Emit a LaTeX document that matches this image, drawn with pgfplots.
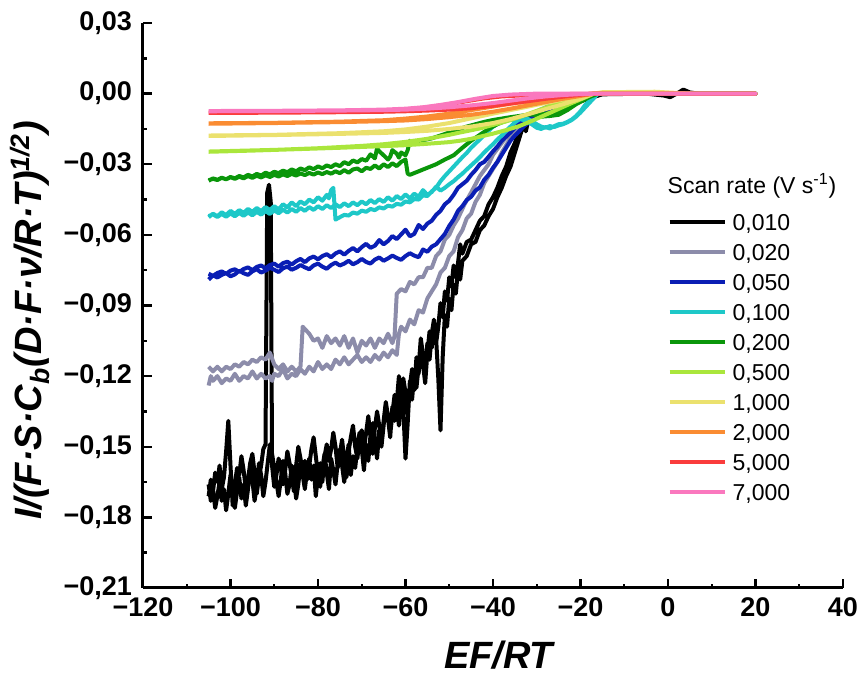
\documentclass[border=0pt]{standalone}
\usepackage{fontspec}
\setmainfont{Liberation Sans}
\usepackage{pgfplots}
\pgfplotsset{compat=1.18}
\definecolor{cBlack}{HTML}{000000}
\definecolor{cGray}{HTML}{8C8CAA}
\definecolor{cBlue}{HTML}{0A1EB4}
\definecolor{cCyan}{HTML}{1EC8C8}
\definecolor{cGreen}{HTML}{0A960A}
\definecolor{cLime}{HTML}{AAE63C}
\definecolor{cYellow}{HTML}{EBE16E}
\definecolor{cOrange}{HTML}{FA8C32}
\definecolor{cRed}{HTML}{FA3C3C}
\definecolor{cPink}{HTML}{FA78BE}
\begin{document}
\begin{tikzpicture}
\useasboundingbox (-71.5pt,-43.5pt) rectangle (357.5pt,294pt);
\begin{axis}[
  scale only axis, width=350pt, height=282.5pt,
  xmin=-120, xmax=40, ymin=-0.21, ymax=0.03,
  axis lines=left, axis line style={-, line width=1.5pt},
  tick align=inside, major tick length=4.5pt, minor tick length=2.2pt,
  every tick/.style={line width=1.2pt, black},
  xtick={-120,-100,-80,-60,-40,-20,0,20,40},
  xticklabels={−120,−100,−80,−60,−40,−20,0,20,40},
  ytick={-0.21,-0.18,-0.15,-0.12,-0.09,-0.06,-0.03,0,0.03},
  yticklabels={{−0,21},{−0,18},{−0,15},{−0,12},{−0,09},{−0,06},{−0,03},{0,00},{0,03}},
  minor x tick num=1, minor y tick num=1,
  tick label style={font=\bfseries\fontsize{13.5}{15}\selectfont},
  xticklabel style={yshift=-1.5pt},
  yticklabel style={xshift=-2pt},
  xlabel={\textbf{\textit{EF/RT}}},
  ylabel={\textbf{\textit{I/(F·S·C\textsubscript{b}(D·F·ν/R·T)\textsuperscript{1/2})}}},
  label style={font=\fontsize{19}{22}\selectfont},
  xlabel style={at={(ticklabel cs:0.51)}, yshift=-5pt},
  ylabel style={at={(ticklabel cs:0.474)}},
  every axis plot/.append style={line width=2pt, line join=round},
  legend image code/.code={\draw[#1,line width=2pt] (0pt,0pt) -- (27.5pt,0pt);},
  legend style={at={(rel axis cs:0.749,0.675)}, anchor=north west, draw=none, fill=none,
    inner sep=0pt, row sep=0pt, font=\fontsize{11.5}{13.8}\selectfont,
    nodes={inner ysep=3.35pt, inner xsep=0pt, text height=8.3pt, text depth=0pt},
    /tikz/every odd column/.append style={column sep=3pt}},
  legend cell align=left,
]
% 0,010
\addplot[color=cBlack] coordinates {
(-105.0,-0.166) (-104.5,-0.173) (-104.0,-0.169) (-103.5,-0.161) (-103.0,-0.165) (-102.5,-0.158)
(-102.0,-0.168) (-101.5,-0.163) (-101.0,-0.152) (-100.5,-0.139) (-100.0,-0.158) (-99.5,-0.175)
(-99.0,-0.166) (-98.5,-0.159) (-98.0,-0.162) (-97.5,-0.154) (-97.0,-0.160) (-96.5,-0.168)
(-96.0,-0.164) (-95.5,-0.157) (-95.0,-0.153) (-94.5,-0.161) (-94.0,-0.170) (-93.5,-0.163)
(-93.0,-0.158) (-92.5,-0.151) (-92.0,-0.149) (-91.6,-0.042) (-91.2,-0.0387) (-90.8,-0.046)
(-90.5,-0.158) (-90.0,-0.167) (-89.5,-0.162) (-89.0,-0.155) (-88.5,-0.159) (-88.0,-0.166)
(-87.5,-0.160) (-87.0,-0.152) (-86.5,-0.157) (-86.0,-0.163) (-85.5,-0.169) (-85.0,-0.158)
(-84.5,-0.150) (-84.0,-0.155) (-83.5,-0.161) (-83.0,-0.156) (-82.5,-0.164) (-82.0,-0.158)
(-81.5,-0.151) (-81.0,-0.146) (-80.5,-0.154) (-80.0,-0.162) (-79.5,-0.157) (-79.0,-0.165)
(-78.5,-0.154) (-78.0,-0.149) (-77.5,-0.156) (-77.0,-0.151) (-76.5,-0.144) (-76.0,-0.150)
(-75.5,-0.159) (-75.0,-0.153) (-74.5,-0.147) (-74.0,-0.155) (-73.5,-0.163) (-73.0,-0.152)
(-72.5,-0.146) (-72.0,-0.141) (-71.5,-0.150) (-71.0,-0.155) (-70.5,-0.147) (-70.0,-0.143)
(-69.5,-0.151) (-69.0,-0.144) (-68.5,-0.137) (-68.0,-0.146) (-67.5,-0.153) (-67.0,-0.142)
(-66.5,-0.135) (-66.0,-0.141) (-65.5,-0.148) (-65.0,-0.139) (-64.5,-0.131) (-64.0,-0.137)
(-63.5,-0.145) (-63.0,-0.136) (-62.5,-0.128) (-62.0,-0.133) (-61.5,-0.141) (-61.0,-0.129)
(-60.5,-0.121) (-60.0,-0.127) (-59.5,-0.136) (-59.0,-0.124) (-58.5,-0.117) (-58.0,-0.126)
(-57.5,-0.112) (-57.0,-0.119) (-56.5,-0.108) (-56.0,-0.115) (-55.5,-0.123) (-55.0,-0.110)
(-54.5,-0.101) (-54.0,-0.108) (-53.5,-0.097) (-53.0,-0.104) (-52.5,-0.121) (-52.0,-0.143)
(-51.5,-0.112) (-51.0,-0.094) (-50.5,-0.099) (-50.0,-0.087) (-49.5,-0.092) (-49.0,-0.081)
(-48.5,-0.085) (-48.0,-0.075) (-47.5,-0.079) (-47.0,-0.071) (-46.0,-0.069) (-45.0,-0.064)
(-44.0,-0.063) (-43.0,-0.058) (-42.0,-0.056) (-41.0,-0.052) (-40.0,-0.049) (-39.0,-0.044)
(-38.0,-0.040) (-37.0,-0.035) (-36.0,-0.031) (-35.0,-0.025) (-34.0,-0.019) (-33.0,-0.013)
(-32.5,-0.016) (-32.0,-0.012) (-30.0,-0.010) (-27.0,-0.008) (-24.0,-0.006) (-21.0,-0.004)
(-18.0,-0.002) (-15.0,-0.0003) (-10.0,0.0) (-5.0,0.0) (-1.0,-0.0008) (0.5,-0.0015) (2.0,0.0)
(3.5,0.0017) (5.0,0.0005) (7.0,0.0) (20.0,0.0)
(7.0,0.0) (-5.0,0.0) (-15.0,-0.0003) (-18.0,-0.0015) (-21.0,-0.003) (-24.0,-0.005)
(-27.0,-0.007) (-30.0,-0.009) (-32.0,-0.011)
(-33.0,-0.012) (-34.0,-0.016) (-35.0,-0.021) (-36.0,-0.025) (-37.0,-0.031) (-38.0,-0.035)
(-39.0,-0.040) (-40.0,-0.044) (-41.0,-0.047) (-42.0,-0.052) (-43.0,-0.054) (-44.0,-0.058)
(-45.0,-0.062) (-46.0,-0.063) (-47.0,-0.068) (-47.5,-0.064) (-48.0,-0.072) (-48.5,-0.078)
(-49.0,-0.073) (-49.5,-0.082) (-50.0,-0.078) (-50.5,-0.088) (-51.0,-0.084) (-51.5,-0.095)
(-52.0,-0.089) (-52.5,-0.099) (-53.0,-0.106) (-53.5,-0.096) (-54.0,-0.102) (-54.5,-0.113)
(-55.0,-0.106) (-55.5,-0.118) (-56.0,-0.111) (-56.5,-0.104) (-57.0,-0.116) (-57.5,-0.125)
(-58.0,-0.119) (-58.5,-0.130) (-59.0,-0.122) (-59.5,-0.140) (-60.0,-0.155) (-60.5,-0.134)
(-61.0,-0.127) (-61.5,-0.120) (-62.0,-0.131) (-62.5,-0.139) (-63.0,-0.133) (-63.5,-0.146)
(-64.0,-0.138) (-64.5,-0.132) (-65.0,-0.141) (-65.5,-0.150) (-66.0,-0.143) (-66.5,-0.155)
(-67.0,-0.147) (-67.5,-0.140) (-68.0,-0.145) (-68.5,-0.156) (-69.0,-0.149) (-69.5,-0.160)
(-70.0,-0.151) (-70.5,-0.144) (-71.0,-0.150) (-71.5,-0.159) (-72.0,-0.154) (-72.5,-0.162)
(-73.0,-0.149) (-73.5,-0.156) (-74.0,-0.165) (-74.5,-0.158) (-75.0,-0.151) (-75.5,-0.157)
(-76.0,-0.166) (-76.5,-0.160) (-77.0,-0.155) (-77.5,-0.168) (-78.0,-0.161) (-78.5,-0.153)
(-79.0,-0.159) (-79.5,-0.167) (-80.0,-0.162) (-80.5,-0.171) (-81.0,-0.158) (-81.5,-0.164)
(-82.0,-0.155) (-82.5,-0.160) (-83.0,-0.168) (-83.5,-0.162) (-84.0,-0.157) (-84.5,-0.166)
(-85.0,-0.172) (-85.5,-0.163) (-86.0,-0.158) (-86.5,-0.166) (-87.0,-0.170) (-87.5,-0.161)
(-88.0,-0.156) (-88.5,-0.164) (-89.0,-0.171) (-89.5,-0.165) (-90.0,-0.159) (-90.5,-0.153)
(-91.0,-0.149) (-91.5,-0.157) (-92.0,-0.165) (-92.5,-0.171) (-93.0,-0.162) (-93.5,-0.157)
(-94.0,-0.167) (-94.5,-0.173) (-95.0,-0.164) (-95.5,-0.159) (-96.0,-0.168) (-96.5,-0.175)
(-97.0,-0.166) (-97.5,-0.172) (-98.0,-0.163) (-98.5,-0.169) (-99.0,-0.176) (-99.5,-0.168)
(-100.0,-0.162) (-100.5,-0.170) (-101.0,-0.177) (-101.5,-0.168) (-102.0,-0.173) (-102.5,-0.165)
(-103.0,-0.171) (-103.5,-0.176) (-104.0,-0.168) (-104.5,-0.164) (-105.0,-0.171)
};
\addlegendentry{0,010}
% 0,020
\addplot[color=cGray] coordinates {
(-105.0,-0.124) (-104.5,-0.120) (-104.0,-0.122) (-103.0,-0.120) (-102.0,-0.123) (-101.0,-0.121)
(-100.0,-0.122) (-99.0,-0.119) (-98.0,-0.122) (-97.0,-0.120) (-96.0,-0.121) (-95.0,-0.118)
(-94.0,-0.121) (-93.0,-0.119) (-92.0,-0.121) (-91.0,-0.120) (-90.5,-0.122) (-90.0,-0.119)
(-89.0,-0.120) (-88.0,-0.117) (-87.0,-0.121) (-86.0,-0.119) (-85.0,-0.120) (-84.0,-0.117)
(-83.0,-0.119) (-82.0,-0.116) (-81.0,-0.118) (-80.0,-0.114) (-79.0,-0.117) (-78.0,-0.115)
(-77.0,-0.117) (-76.0,-0.113) (-75.0,-0.115) (-74.0,-0.112) (-73.0,-0.115) (-72.0,-0.113)
(-71.0,-0.111) (-70.0,-0.114) (-69.0,-0.112) (-68.0,-0.114) (-67.0,-0.111) (-66.0,-0.113)
(-65.0,-0.110) (-64.0,-0.112) (-63.0,-0.109) (-62.0,-0.111) (-61.5,-0.102) (-61.0,-0.099)
(-60.0,-0.101) (-59.0,-0.096) (-58.0,-0.098) (-57.0,-0.092) (-56.0,-0.093) (-55.0,-0.087)
(-54.0,-0.084) (-53.0,-0.081) (-52.0,-0.076) (-51.0,-0.074) (-50.0,-0.069) (-49.0,-0.067)
(-48.0,-0.061) (-47.0,-0.058) (-46.0,-0.053) (-45.0,-0.051) (-44.0,-0.046) (-43.0,-0.043)
(-42.0,-0.038) (-41.0,-0.035) (-40.0,-0.032) (-39.0,-0.029) (-38.0,-0.025) (-37.0,-0.022)
(-36.0,-0.019) (-35.0,-0.016) (-34.0,-0.014) (-32.0,-0.011) (-30.0,-0.009) (-27.0,-0.006)
(-24.0,-0.004) (-20.0,-0.002) (-16.0,0.0) (20.0,0.0)
(-16.0,0.0) (-20.0,-0.0015) (-24.0,-0.003) (-27.0,-0.005) (-30.0,-0.0075) (-32.0,-0.0095)
(-34.0,-0.012) (-36.0,-0.016) (-38.0,-0.021) (-40.0,-0.026) (-41.0,-0.030) (-43.0,-0.035)
(-45.0,-0.042) (-46.5,-0.047) (-48.0,-0.053) (-49.0,-0.056) (-50.0,-0.060) (-51.0,-0.062)
(-52.0,-0.067) (-53.0,-0.069) (-54.0,-0.074) (-55.0,-0.074) (-56.0,-0.078) (-57.0,-0.078)
(-58.0,-0.081) (-59.0,-0.080) (-60.0,-0.084) (-61.0,-0.083) (-62.0,-0.085) (-62.5,-0.103)
(-63.0,-0.106) (-64.0,-0.102) (-65.0,-0.106) (-66.0,-0.104) (-67.0,-0.108) (-68.0,-0.104)
(-69.0,-0.107) (-70.0,-0.105) (-71.0,-0.110) (-72.0,-0.104) (-73.0,-0.108) (-74.0,-0.103)
(-75.0,-0.107) (-76.0,-0.104) (-77.0,-0.106) (-78.0,-0.103) (-79.0,-0.108) (-80.0,-0.104)
(-81.0,-0.105) (-82.0,-0.102) (-83.0,-0.100) (-83.5,-0.099) (-84.0,-0.116) (-85.0,-0.118)
(-86.0,-0.116) (-87.0,-0.118) (-88.0,-0.115) (-89.0,-0.117) (-90.0,-0.115) (-91.0,-0.110)
(-92.0,-0.113) (-93.0,-0.112) (-94.0,-0.114) (-95.0,-0.113) (-96.0,-0.115) (-97.0,-0.114)
(-98.0,-0.116) (-99.0,-0.115) (-100.0,-0.117) (-101.0,-0.116) (-102.0,-0.118) (-103.0,-0.116)
(-104.0,-0.118) (-105.0,-0.116)
};
\addlegendentry{0,020}
% 0,050
\addplot[color=cBlue] coordinates {
(-105,-0.0790) (-104,-0.0772) (-103,-0.0781) (-102,-0.0770) (-101,-0.0762) (-100,-0.0776)
(-99,-0.0768) (-98,-0.0752) (-97,-0.0763) (-96,-0.0770) (-95,-0.0755) (-94,-0.0746)
(-93,-0.0760) (-92,-0.0752) (-91,-0.0740) (-90,-0.0748) (-89,-0.0758) (-88,-0.0742)
(-87,-0.0735) (-86,-0.0748) (-85,-0.0740) (-84,-0.0728) (-83,-0.0738) (-82,-0.0746)
(-81,-0.0730) (-80,-0.0722) (-79,-0.0735) (-78,-0.0744) (-77,-0.0728) (-76,-0.0718)
(-75,-0.0730) (-74,-0.0722) (-73,-0.0710) (-72,-0.0725) (-71,-0.0716) (-70,-0.0702)
(-69,-0.0715) (-68,-0.0722) (-67,-0.0705) (-66,-0.0696) (-65,-0.0710) (-64,-0.0700)
(-63,-0.0688) (-62,-0.0698) (-61,-0.0706) (-60,-0.0690) (-59,-0.0678) (-58,-0.0688)
(-57,-0.0695) (-56.5,-0.0680) (-56,-0.0662) (-55,-0.0672) (-54,-0.0650) (-53,-0.0640)
(-52,-0.0618) (-51,-0.0596) (-50,-0.0562) (-49,-0.0535) (-48,-0.0498) (-47,-0.0478)
(-46,-0.0452) (-45,-0.0438) (-44,-0.0412) (-43,-0.0398) (-42,-0.0366) (-41,-0.0345)
(-40,-0.0315) (-39,-0.0290) (-38,-0.0260) (-37,-0.0230) (-36,-0.0200) (-35,-0.0178)
(-34,-0.0160) (-33,-0.0140) (-32,-0.0125) (-30,-0.0100) (-28,-0.0085) (-25,-0.0065)
(-22,-0.0040) (-19,-0.0018) (-16,0.0) (20,0.0)
(-16,0.0) (-19,-0.0012) (-22,-0.0030) (-25,-0.0050) (-28,-0.0068) (-30,-0.0082)
(-32,-0.0100) (-34,-0.0125) (-36,-0.0165) (-38,-0.0200) (-39,-0.0225) (-40,-0.0245)
(-41,-0.0268) (-42,-0.0290) (-43,-0.0300) (-44,-0.0325) (-45,-0.0345) (-46,-0.0370)
(-47,-0.0385) (-48,-0.0400) (-49,-0.0430) (-50,-0.0455) (-51,-0.0470) (-52,-0.0498)
(-53,-0.0515) (-54,-0.0540) (-55,-0.0552) (-56,-0.0575) (-57,-0.0558) (-58,-0.0596)
(-59,-0.0606) (-60,-0.0578) (-61,-0.0598) (-62,-0.0618) (-63,-0.0605) (-64,-0.0626)
(-65,-0.0640) (-66,-0.0622) (-67,-0.0646) (-68,-0.0655) (-69,-0.0638) (-70,-0.0652)
(-71,-0.0670) (-72,-0.0656) (-73,-0.0668) (-74,-0.0684) (-75,-0.0670) (-76,-0.0679)
(-77,-0.0695) (-78,-0.0682) (-79,-0.0690) (-80,-0.0704) (-81,-0.0692) (-82,-0.0700)
(-83,-0.0716) (-84,-0.0702) (-85,-0.0712) (-86,-0.0726) (-87,-0.0714) (-88,-0.0720)
(-89,-0.0735) (-90,-0.0722) (-91,-0.0728) (-92,-0.0742) (-93,-0.0730) (-94,-0.0736)
(-95,-0.0750) (-96,-0.0738) (-97,-0.0745) (-98,-0.0758) (-99,-0.0746) (-100,-0.0752)
(-101,-0.0766) (-102,-0.0755) (-103,-0.0762) (-104,-0.0774) (-105,-0.0765)
};
\addlegendentry{0,050}
% 0,100
\addplot[color=cCyan] coordinates {
(-105,-0.0525) (-104,-0.0510) (-103,-0.0521) (-102,-0.0504) (-101,-0.0516) (-100,-0.0498)
(-99,-0.0511) (-98,-0.0495) (-97,-0.0506) (-96,-0.0490) (-95,-0.0502) (-94,-0.0486)
(-93,-0.0499) (-92,-0.0482) (-91,-0.0494) (-90,-0.0478) (-89,-0.0492) (-88,-0.0470)
(-87,-0.0483) (-86,-0.0462) (-85,-0.0478) (-84,-0.0458) (-83,-0.0470) (-82,-0.0450)
(-81,-0.0462) (-80,-0.0440) (-79,-0.0455) (-78,-0.0430) (-77.5,-0.0445) (-77,-0.0410)
(-76.5,-0.0400) (-76,-0.0535) (-75,-0.0525) (-74,-0.0515) (-73,-0.0518) (-72,-0.0505)
(-71,-0.0510) (-70,-0.0497) (-69,-0.0502) (-68,-0.0490) (-67,-0.0495) (-66,-0.0483)
(-65,-0.0488) (-64,-0.0476) (-63,-0.0480) (-62,-0.0468) (-61,-0.0472) (-60,-0.0458)
(-59,-0.0462) (-58,-0.0448) (-57,-0.0450) (-56,-0.0432) (-55,-0.0435) (-54,-0.0415)
(-53,-0.0400) (-52,-0.0372) (-51,-0.0350) (-50,-0.0330) (-49,-0.0310) (-48,-0.0290)
(-47,-0.0270) (-46,-0.0252) (-45,-0.0230) (-44,-0.0212) (-43,-0.0195) (-42,-0.0175)
(-41,-0.0158) (-40,-0.0140) (-39,-0.0128) (-38,-0.0120) (-37,-0.0115) (-36,-0.0112)
(-35,-0.0110) (-34,-0.0108) (-33,-0.0112) (-32,-0.0120) (-31,-0.0132) (-30,-0.0145)
(-29,-0.0150) (-28,-0.0142) (-27,-0.0148) (-26,-0.0138) (-25,-0.0130) (-24,-0.0128)
(-23,-0.0120) (-22,-0.0110) (-21,-0.0095) (-20,-0.0075) (-19,-0.0050) (-18,-0.0030)
(-17,-0.0012) (-16,0.0) (20,0.0)
(-16,0.0) (-17,-0.0020) (-18,-0.0040) (-19,-0.0060) (-20,-0.0080) (-21,-0.0098)
(-22,-0.0112) (-23,-0.0122) (-24,-0.0130) (-25,-0.0135) (-26,-0.0142) (-27,-0.0138)
(-28,-0.0145) (-29,-0.0140) (-30,-0.0130) (-31,-0.0118) (-32,-0.0108) (-33,-0.0104)
(-34,-0.0110) (-35,-0.0122) (-36,-0.0140) (-37,-0.0158) (-38,-0.0178) (-39,-0.0195)
(-40,-0.0215) (-41,-0.0232) (-42,-0.0250) (-43,-0.0270) (-44,-0.0288) (-45,-0.0305)
(-46,-0.0322) (-47,-0.0340) (-48,-0.0355) (-49,-0.0372) (-50,-0.0385) (-51,-0.0400)
(-52,-0.0412) (-53,-0.0395) (-54,-0.0418) (-55,-0.0430) (-56,-0.0410) (-57,-0.0438)
(-58,-0.0425) (-59,-0.0445) (-60,-0.0428) (-61,-0.0448) (-62,-0.0435) (-63,-0.0455)
(-64,-0.0440) (-65,-0.0460) (-66,-0.0448) (-67,-0.0465) (-68,-0.0452) (-69,-0.0470)
(-70,-0.0458) (-71,-0.0474) (-72,-0.0462) (-73,-0.0478) (-74,-0.0466) (-75,-0.0482)
(-76,-0.0470) (-77,-0.0486) (-78,-0.0474) (-79,-0.0490) (-80,-0.0478) (-81,-0.0494)
(-82,-0.0482) (-83,-0.0498) (-84,-0.0486) (-85,-0.0502) (-86,-0.0490) (-87,-0.0505)
(-88,-0.0493) (-89,-0.0508) (-90,-0.0496) (-91,-0.0511) (-92,-0.0499) (-93,-0.0514)
(-94,-0.0502) (-95,-0.0517) (-96,-0.0505) (-97,-0.0519) (-98,-0.0507) (-99,-0.0521)
(-100,-0.0509) (-101,-0.0523) (-102,-0.0511) (-103,-0.0524) (-104,-0.0513) (-105,-0.0520)
};
\addlegendentry{0,100}
% 0,200
\addplot[color=cGreen] coordinates {
(-105,-0.0370) (-104,-0.0360) (-103,-0.0366) (-102,-0.0357) (-101,-0.0364) (-100,-0.0355)
(-99,-0.0362) (-98,-0.0353) (-97,-0.0360) (-96,-0.0350) (-95,-0.0358) (-94,-0.0349)
(-93,-0.0356) (-92,-0.0347) (-91,-0.0354) (-90,-0.0345) (-89,-0.0352) (-88,-0.0343)
(-87,-0.0350) (-86,-0.0341) (-85,-0.0348) (-84,-0.0339) (-83,-0.0346) (-82,-0.0337)
(-81,-0.0344) (-80,-0.0335) (-79,-0.0342) (-78,-0.0333) (-77,-0.0340) (-76,-0.0330)
(-75,-0.0338) (-74,-0.0325) (-73,-0.0336) (-72,-0.0322) (-71,-0.0318) (-70,-0.0330)
(-69,-0.0315) (-68,-0.0320) (-67,-0.0305) (-66,-0.0318) (-65,-0.0300) (-64,-0.0312)
(-63,-0.0296) (-62,-0.0308) (-61,-0.0290) (-60,-0.0280) (-59.5,-0.0340) (-59,-0.0345)
(-57,-0.0330) (-55,-0.0315) (-53,-0.0300) (-51,-0.0280) (-49,-0.0262) (-47,-0.0230)
(-45,-0.0200) (-43,-0.0175) (-41,-0.0150) (-39,-0.0130) (-37,-0.0115) (-35,-0.0102)
(-33,-0.0092) (-31,-0.0088) (-29,-0.0098) (-27,-0.0095) (-25,-0.0090) (-23,-0.0070)
(-21,-0.0045) (-19,-0.0022) (-17,-0.0005) (-16,0.0) (20,0.0)
(-16,0.0) (-18,-0.0015) (-20,-0.0035) (-22,-0.0055) (-24,-0.0068) (-26,-0.0078)
(-28,-0.0085) (-30,-0.0088) (-32,-0.0090) (-34,-0.0095) (-36,-0.0100) (-38,-0.0106)
(-40,-0.0112) (-42,-0.0120) (-44,-0.0130) (-46,-0.0140) (-48,-0.0152) (-50,-0.0165)
(-52,-0.0178) (-54,-0.0190) (-56,-0.0198) (-57.5,-0.0205) (-58.5,-0.0210) (-59,-0.0200)
(-59.5,-0.0240) (-60,-0.0262) (-61,-0.0250) (-61.5,-0.0272) (-62,-0.0255) (-63,-0.0240)
(-63.5,-0.0268) (-64,-0.0280) (-65,-0.0262) (-66,-0.0245) (-66.5,-0.0232) (-67,-0.0275)
(-68,-0.0258) (-69,-0.0285) (-70,-0.0278) (-71,-0.0292) (-72,-0.0284) (-73,-0.0300)
(-74,-0.0291) (-75,-0.0308) (-76,-0.0300) (-77,-0.0312) (-78,-0.0305) (-79,-0.0317)
(-80,-0.0309) (-81,-0.0321) (-82,-0.0313) (-83,-0.0325) (-84,-0.0318) (-85,-0.0330)
(-86,-0.0322) (-87,-0.0334) (-88,-0.0327) (-89,-0.0338) (-90,-0.0332) (-91,-0.0343)
(-92,-0.0336) (-93,-0.0348) (-94,-0.0341) (-95,-0.0352) (-96,-0.0345) (-97,-0.0356)
(-98,-0.0350) (-99,-0.0360) (-100,-0.0354) (-101,-0.0364) (-102,-0.0358) (-103,-0.0367)
(-104,-0.0362) (-105,-0.0368)
};
\addlegendentry{0,200}
% 0,500
\addplot[color=cLime] coordinates {
(-105,-0.0247) (-95,-0.0242) (-85,-0.0236) (-75,-0.0230) (-65,-0.0223) (-60,-0.0219)
(-55,-0.0213) (-50,-0.0206) (-47.5,-0.0200) (-45,-0.0192) (-43,-0.0183) (-40,-0.0170)
(-37,-0.0155) (-34,-0.0138) (-31,-0.0115) (-28,-0.0090) (-25,-0.0065) (-22,-0.0040)
(-19,-0.0017) (-17,0.0) (20,0.0)
(-17,0.0) (-19,-0.0008) (-22,-0.0022) (-25,-0.0040) (-28,-0.0060) (-31,-0.0080)
(-34,-0.0100) (-37,-0.0118) (-40,-0.0133) (-43,-0.0148) (-47.5,-0.0165) (-50,-0.0175)
(-55,-0.0192) (-60,-0.0205) (-65,-0.0215) (-70,-0.0222) (-80,-0.0232) (-90,-0.0239)
(-105,-0.0246)
};
\addlegendentry{0,500}
% 1,000
\addplot[color=cYellow] coordinates {
(-105,-0.0180) (-90,-0.0176) (-75,-0.0171) (-65,-0.0167) (-60,-0.0163) (-55,-0.0158)
(-50,-0.0150) (-45,-0.0140) (-40,-0.0125) (-36,-0.0108) (-32,-0.0088) (-28,-0.0066)
(-24,-0.0045) (-20,-0.0022) (-17,0.0) (-15,0.0006) (-3,0.0008) (2,0.0003) (6,0.0) (20,0.0)
(6,0.0) (-3,0.0006) (-15,0.0004) (-17,0.0) (-20,-0.0010) (-24,-0.0025) (-28,-0.0040)
(-32,-0.0055) (-36,-0.0070) (-40,-0.0085) (-45,-0.0105) (-50,-0.0125) (-55,-0.0140)
(-60,-0.0152) (-65,-0.0160) (-75,-0.0168) (-90,-0.0175) (-105,-0.0178)
};
\addlegendentry{1,000}
% 2,000
\addplot[color=cOrange] coordinates {
(-105,-0.0128) (-90,-0.0125) (-75,-0.0121) (-65,-0.0117) (-60,-0.0114) (-55,-0.0108)
(-50,-0.0100) (-45,-0.0090) (-40,-0.0077) (-36,-0.0064) (-32,-0.0050) (-28,-0.0036)
(-24,-0.0022) (-20,-0.0010) (-17,0.0) (20,0.0)
(-17,0.0) (-20,-0.0004) (-24,-0.0012) (-28,-0.0022) (-32,-0.0032) (-36,-0.0043)
(-40,-0.0055) (-45,-0.0070) (-50,-0.0085) (-55,-0.0097) (-60,-0.0106) (-65,-0.0113)
(-75,-0.0119) (-90,-0.0124) (-105,-0.0126)
};
\addlegendentry{2,000}
% 5,000
\addplot[color=cRed] coordinates {
(-105,-0.0082) (-90,-0.0081) (-75,-0.0079) (-65,-0.0077) (-60,-0.0075) (-55,-0.0072)
(-50,-0.0068) (-45,-0.0062) (-40,-0.0052) (-36,-0.0042) (-32,-0.0032) (-28,-0.0022)
(-24,-0.0013) (-20,-0.0005) (-16,0.0) (20,0.0)
(-16,0.0) (-24,-0.0002) (-32,-0.0006) (-38,-0.0012) (-42,-0.0020) (-46,-0.0032)
(-50,-0.0045) (-55,-0.0058) (-60,-0.0067) (-65,-0.0073) (-75,-0.0077) (-90,-0.0080)
(-105,-0.0081)
};
\addlegendentry{5,000}
% 7,000
\addplot[color=cPink] coordinates {
(-105,-0.0075) (-90,-0.0074) (-75,-0.0072) (-65,-0.0070) (-60,-0.0068) (-55,-0.0064)
(-50,-0.0058) (-45,-0.0050) (-40,-0.0040) (-36,-0.0030) (-32,-0.0020) (-28,-0.0012)
(-24,-0.0006) (-20,-0.0002) (-16,0.0) (20,0.0)
(-16,0.0) (-30,0.0) (-36,-0.0004) (-40,-0.0010) (-44,-0.0022) (-48,-0.0036)
(-52,-0.0048) (-56,-0.0058) (-60,-0.0064) (-65,-0.0068) (-75,-0.0071) (-90,-0.0073)
(-105,-0.0074)
};
\addlegendentry{7,000}
\node[anchor=base west, font=\fontsize{11.5}{13.8}\selectfont, inner sep=0pt]
  at (rel axis cs:0.749,0.699) {Scan rate (V s\textsuperscript{-1})};
\end{axis}
\end{tikzpicture}
\end{document}
